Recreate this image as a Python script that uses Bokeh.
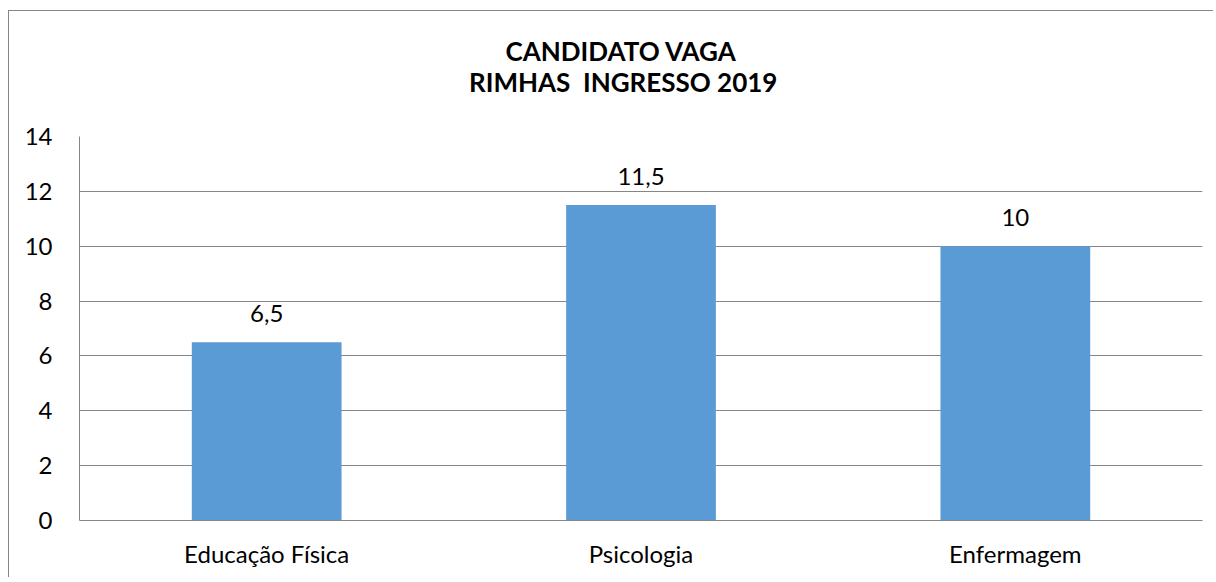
from bokeh.plotting import figure
from bokeh.models import ColumnDataSource, Title, FixedTicker
from bokeh.core.properties import value
from bokeh.embed import file_html
from bokeh.resources import INLINE

categories = ["Educação Física", "Psicologia", "Enfermagem"]
values = [6.5, 11.5, 10]
y_ticks = [0, 2, 4, 6, 8, 10, 12, 14]
title_lines = ["CANDIDATO VAGA", "RIMHAS  INGRESSO 2019"]

labels = [f"{v:g}".replace(".", ",") for v in values]
src = ColumnDataSource(data=dict(cat=categories, val=values, lab=labels))

FONT = "Lato"
W, H = 1205, 567
MBL, MBT, MBR = 70, 125, 12
MBB = H - 509

p = figure(x_range=categories, y_range=(0, 14), width=W, height=H,
           output_backend="svg", toolbar_location=None,
           min_border_left=MBL, min_border_right=MBR, min_border_top=MBT, min_border_bottom=MBB)
p.margin = (11, 0, 0, 9)
# chart-area border: only left and top edges fall inside the visible window in the reference
p.styles = {"box-shadow": "-1px -1px 0 0 #868686"}
p.outline_line_color = None
p.background_fill_color = "white"
p.border_fill_color = "white"

p.vbar(x="cat", top="val", width=0.4, source=src, fill_color="#5B9BD5", line_color=None)
p.text(x="cat", y="val", text="lab", source=src, text_align="center", text_baseline="middle",
       y_offset=-29, text_font=value(FONT), text_font_size="24px", text_color="black")

p.yaxis.ticker = FixedTicker(ticks=y_ticks)
p.xgrid.grid_line_color = None
p.ygrid.grid_line_color = "#868686"
p.ygrid.grid_line_width = 1

for ax in (p.xaxis, p.yaxis):
    ax.axis_line_color = "#868686"
    ax.major_tick_line_color = None
    ax.minor_tick_line_color = None
    ax.major_label_text_font = FONT
    ax.major_label_text_font_size = "24px"
    ax.major_label_text_color = "black"
p.yaxis.major_label_standoff = 21
p.xaxis.major_label_standoff = 12

# titles stack outward from the frame: spacer first, then line 2, then line 1
p.add_layout(Title(text=" ", text_font_size="2px", standoff=37), "above")
p.add_layout(Title(text=title_lines[1].replace("  ", "\u00a0 "), align="left", offset=389.5,
                   standoff=-5, text_font=FONT, text_font_size="26px",
                   text_font_style="bold", text_color="black"), "above")
p.add_layout(Title(text=title_lines[0], align="left", offset=426, standoff=0,
                   text_font=FONT, text_font_size="26px",
                   text_font_style="bold", text_color="black"), "above")

open("out.html", "w").write(file_html(p, INLINE))
